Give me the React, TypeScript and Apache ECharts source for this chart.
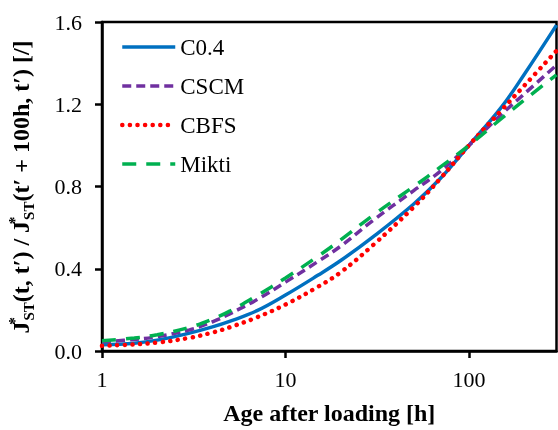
import React, { useEffect, useRef } from "react";
import * as echarts from "echarts";

const ages = [1, 1.5, 2, 3, 4, 5, 7, 10, 15, 20, 30, 50, 70, 100, 150, 200, 300];
const c04 = [0.03, 0.038, 0.053, 0.087, 0.117, 0.145, 0.196, 0.272, 0.368, 0.44, 0.555, 0.715, 0.84, 1.0, 1.185, 1.345, 1.585];
const cscm = [0.045, 0.056, 0.07, 0.103, 0.142, 0.182, 0.25, 0.335, 0.435, 0.51, 0.635, 0.78, 0.875, 1.0, 1.15, 1.25, 1.39];
const cbfs = [0.025, 0.032, 0.041, 0.064, 0.09, 0.116, 0.164, 0.226, 0.312, 0.383, 0.515, 0.7, 0.84, 1.0, 1.17, 1.29, 1.46];
const mikti = [0.05, 0.063, 0.079, 0.115, 0.155, 0.195, 0.27, 0.355, 0.46, 0.54, 0.66, 0.8, 0.895, 1.0, 1.13, 1.22, 1.343];
const seriesNames = ["C0.4", "CSCM", "CBFS", "Mikti"];
const yTicks = { min: 0, max: 1.6, interval: 0.4 };
const xRange = { min: 1, max: 300 };
const xTickValues = [1, 10, 100];

const FONT = "Liberation Serif, serif";

export default function App() {
  const ref = useRef<HTMLDivElement>(null);
  useEffect(() => {
    if (!ref.current) return;
    const chart = echarts.init(ref.current, undefined, { renderer: "svg" });
    const mk = (vals: number[]) => ages.map((a, i) => [a, vals[i]]);
    const styles = [
      { color: "#0070C0", type: "solid" as any, width: 3.5, cap: "butt" },
      { color: "#7030A0", type: [9, 5] as any, width: 3.5, cap: "butt" },
      { color: "#FF0000", type: [0.1, 7.5] as any, width: 4.5, cap: "round" },
      { color: "#00B050", type: [14, 10] as any, width: 3.5, cap: "butt" },
    ];
    const datas = [c04, cscm, cbfs, mikti];
    chart.setOption({
      animation: false,
      textStyle: { fontFamily: FONT },
      grid: {
        left: 102,
        right: 1.5,
        top: 22,
        bottom: 78,
        show: true,
        borderColor: "#000",
        borderWidth: 2.5,
      },
      legend: {
        orient: "vertical",
        left: 115,
        top: 30,
        itemWidth: 53,
        itemHeight: 14,
        itemGap: 15,
        itemStyle: { opacity: 0 },
        lineStyle: { width: "inherit", type: "inherit", cap: "inherit" } as any,
        textStyle: { fontFamily: FONT, fontSize: 23, color: "#000", lineHeight: 24 },
        data: seriesNames,
      },
      xAxis: {
        type: "log",
        logBase: 10,
        min: xRange.min,
        max: xRange.max,
        name: "Age after loading [h]",
        nameLocation: "middle",
        nameGap: 50,
        nameTextStyle: { fontFamily: FONT, fontSize: 24, fontWeight: "bold", color: "#000" },
        axisLine: { lineStyle: { color: "#000", width: 2.5 } },
        axisTick: {
          show: true,
          inside: false,
          length: 7,
          customValues: xTickValues,
          lineStyle: { color: "#000", width: 2.5 },
        },
        minorTick: { show: false },
        splitLine: { show: false },
        axisLabel: {
          fontFamily: FONT,
          fontSize: 22,
          color: "#000",
          margin: 17,
          customValues: xTickValues,
        },
      },
      yAxis: {
        type: "value",
        min: yTicks.min,
        max: yTicks.max,
        interval: yTicks.interval,
        axisLine: { show: true, lineStyle: { color: "#000", width: 2.5 } },
        axisTick: { show: true, inside: false, length: 7, lineStyle: { color: "#000", width: 2.5 } },
        splitLine: { show: false },
        axisLabel: {
          fontFamily: FONT,
          fontSize: 22,
          color: "#000",
          margin: 20,
          formatter: (v: number) => v.toFixed(1),
        },
      },
      graphic: [
        {
          type: "text",
          x: 21,
          y: 187,
          rotation: Math.PI / 2,
          style: {
            text:
              "{m|J}{sup|*}{sub|ST}{m|(t, t′) / J}{sup|*}{sub|ST}{m|(t′ + 100h, t′) [/]}",
            align: "center",
            verticalAlign: "middle",
            fill: "#000",
            rich: {
              m: { fontFamily: FONT, fontSize: 24, fontWeight: "bold", lineHeight: 30, fill: "#000" },
              sup: {
                fontFamily: FONT,
                fontSize: 16,
                fontWeight: "bold",
                verticalAlign: "top",
                lineHeight: 14,
                width: 1,
                fill: "#000",
              },
              sub: {
                fontFamily: FONT,
                fontSize: 15,
                fontWeight: "bold",
                verticalAlign: "bottom",
                lineHeight: 14,
                fill: "#000",
              },
            },
          },
        },
      ],
      series: datas.map((d, i) => ({
        name: seriesNames[i],
        type: "line",
        data: mk(d),
        smooth: 0.4,
        showSymbol: false,
        symbol: "none",
        lineStyle: styles[i],
        itemStyle: { color: styles[i].color },
      })),
    });
    return () => chart.dispose();
  }, []);
  return (
    <div
      ref={ref}
      style={{ width: 558, height: 430, position: "fixed", left: 0, top: 0 }}
    />
  );
}
